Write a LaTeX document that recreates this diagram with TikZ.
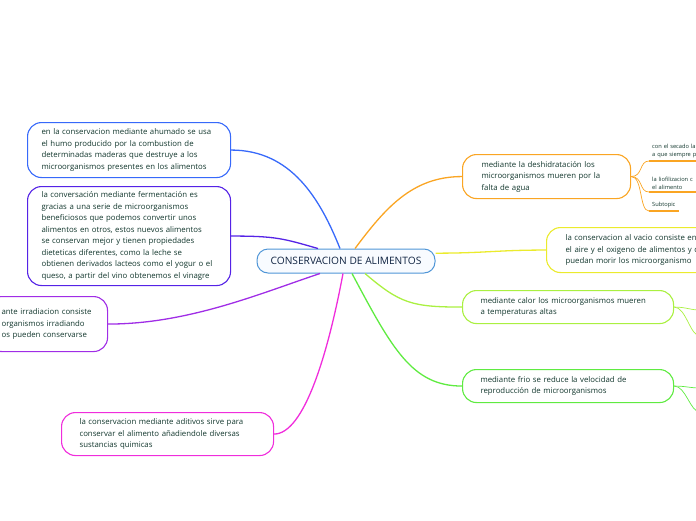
\documentclass[tikz,border=0pt]{standalone}
\usepackage{fontspec}
\setmainfont{Open Sans}

\definecolor{boxtext}{RGB}{18,55,45}
\definecolor{roottext}{RGB}{15,35,65}
\definecolor{rootline}{RGB}{80,150,215}
\definecolor{rootfill}{RGB}{248,251,255}
\definecolor{cblue}{RGB}{55,105,250}
\definecolor{cindigo}{RGB}{85,35,230}
\definecolor{cpurple}{RGB}{160,45,230}
\definecolor{cmagenta}{RGB}{240,45,220}
\definecolor{corange}{RGB}{250,165,35}
\definecolor{cyellow}{RGB}{235,235,45}
\definecolor{clime}{RGB}{170,240,65}
\definecolor{cgreen}{RGB}{95,235,65}

\begin{document}
\begin{tikzpicture}[
    x=1pt, y=-1pt,
    topicnode/.style = {rectangle, rounded corners=14pt, draw, line width=1.1pt, fill=white, align=left, anchor=north west, text=boxtext, font=\fontsize{7.8}{11.5}\selectfont, inner ysep=0pt},
    rootnode/.style = {rectangle, rounded corners=11pt, draw=rootline, line width=1pt, fill=rootfill, text=roottext, font=\fontsize{10.2}{11}\selectfont, minimum width=178pt, minimum height=24pt},
    subnode/.style = {anchor=south west, align=left, inner xsep=3pt, inner ysep=2.5pt, text=boxtext, font=\fontsize{5.7}{8}\selectfont},
    branch/.style = {line width=1.3pt},
    twig/.style = {line width=0.7pt}
  ]
  \clip (0,0) rectangle (696,520);

  % central topic
  \node[rootnode] (root) at (346,261) {CONSERVACION DE ALIMENTOS};

  % left side
  \node[topicnode, draw=cblue, text width=175pt, inner xsep=14pt, minimum height=55pt] (ahumado) at (27,122)
    {en la conservacion mediante ahumado se usa\\el humo producido por la combustion de\\determinadas maderas que destruye a los\\microorganismos presentes en los alimentos};
  \node[topicnode, draw=cindigo, text width=175pt, inner xsep=14pt, minimum height=99pt] (fermento) at (27,186)
    {la conversación mediante fermentación es\\gracias a una serie de microorganismos\\beneficiosos que podemos convertir unos\\alimentos en otros, estos nuevos alimentos\\se conservan mejor y tienen propiedades\\dieteticas diferentes, como la leche se\\obtienen derivados lacteos como el yogur o el\\queso, a partir del vino obtenemos el vinagre};
  \node[topicnode, draw=cpurple, text width=92pt, inner xsep=14pt, minimum height=55pt] (irradia) at (-13,296)
    {ante irradiacion consiste\\organismos irradiando\\os pueden conservarse};
  \node[topicnode, draw=cmagenta, text width=176pt, inner xsep=18pt, minimum height=43pt] (aditivo) at (61,412)
    {la conservacion mediante aditivos sirve para\\conservar el alimento añadiendole diversas\\sustancias quimicas};

  % right side
  \node[topicnode, draw=corange, text width=130pt, inner xsep=19pt, minimum height=44pt] (deshidra) at (462,154)
    {mediante la deshidratación los\\microorganismos mueren por la\\falta de agua};
  \node[topicnode, draw=cyellow, text width=162pt, inner xsep=19pt, minimum height=45pt] (vacio) at (546,227)
    {la conservacion al vacio consiste en\\el aire y el oxigeno de alimentos y d\\puedan morir los microorganismo};
  \node[topicnode, draw=clime, text width=175pt, inner xsep=18pt, minimum height=33pt] (calor) at (462,290)
    {mediante calor los microorganismos mueren\\a temperaturas altas};
  \node[topicnode, draw=cgreen, text width=175pt, inner xsep=18pt, minimum height=33pt] (frio) at (462,369)
    {mediante frio se reduce la velocidad de\\reproducción de microorganismos};

  % subtopics
  \node[subnode, text width=60pt] (secado) at (649,161) {con el secado la\\a que siempre p};
  \node[subnode, text width=60pt] (liofil) at (649,192) {la liofilizacion c\\el alimento};
  \node[subnode] (subt) at (649,211) {Subtopic};
  \coordinate (calorA) at (700,310);
  \coordinate (calorB) at (700,336);
  \coordinate (frioA) at (700,388);
  \coordinate (frioB) at (700,412);

  % branches
  \draw[branch, cblue] (ahumado.east) .. controls +(60,0) and +(-20,-50) .. ([xshift=-6pt]root.north);
  \draw[branch, cindigo] (fermento.east) .. controls +(45,0) and +(-35,-10) .. ([xshift=-28pt]root.north);
  \draw[branch, cpurple] (irradia.east) .. controls +(80,0) and +(-60,20) .. ([xshift=-26pt]root.south);
  \draw[branch, cmagenta] (aditivo.east) .. controls +(30,0) and +(-15,80) .. ([xshift=-3pt]root.south);
  \draw[branch, corange] ([xshift=9pt]root.north) .. controls +(30,-40) and +(-50,0) .. (deshidra.west);
  \draw[branch, cyellow] (root.5) .. controls +(50,0) and +(-50,0) .. (vacio.west);
  \draw[branch, clime] ([xshift=19pt]root.south) .. controls +(35,30) and +(-50,0) .. (calor.west);
  \draw[branch, cgreen] ([xshift=6pt]root.south) .. controls +(40,75) and +(-50,0) .. (frio.west);

  % twigs
  \foreach \leaf in {secado, liofil, subt} {
    \draw[twig, corange] (deshidra.east) .. controls +(12,0) and +(-10,0) .. (\leaf.south west);
    \draw[corange, line width=1.2pt] (\leaf.south west) -- (\leaf.south east);
  }
  \draw[twig, clime] (calor.east) .. controls +(12,0) and +(-10,0) .. (calorA);
  \draw[twig, clime] (calor.east) .. controls +(12,0) and +(-10,0) .. (calorB);
  \draw[twig, cgreen] (frio.east) .. controls +(12,0) and +(-10,0) .. (frioA);
  \draw[twig, cgreen] (frio.east) .. controls +(12,0) and +(-10,0) .. (frioB);
\end{tikzpicture}
\end{document}
